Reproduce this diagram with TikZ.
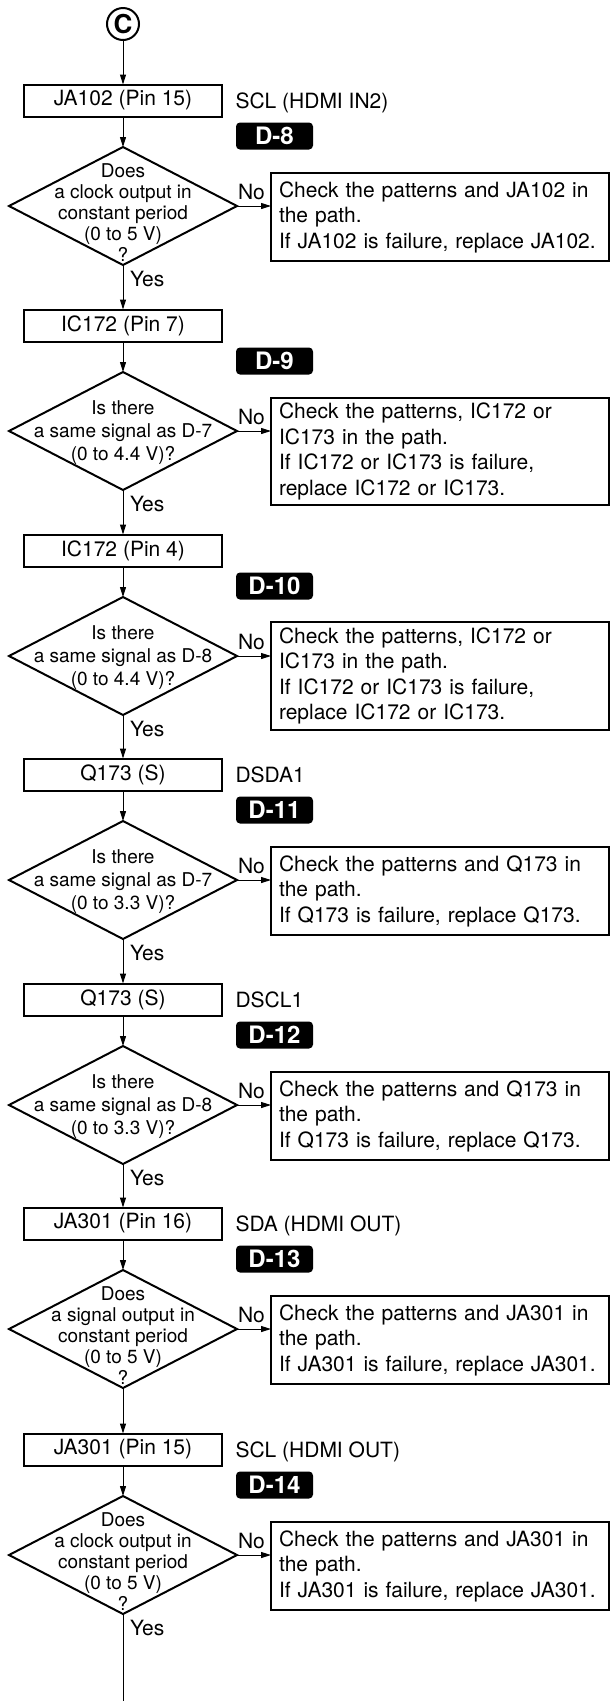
\documentclass[tikz,border=0pt]{standalone}
\usepackage{fontspec}
\setmainfont{TeX Gyre Heros}
\usetikzlibrary{arrows.meta,shapes.geometric,calc}
% diamond text: raise, line spacing, lines
\newcommand\dq[3]{\smash{\raisebox{#1}{\makebox[0pt]{\fontsize{19}{#2}\selectfont\begin{tabular}{@{}c@{}}#3\end{tabular}}}}}
\begin{document}
\begin{tikzpicture}[x=1pt,y=-1pt,
  every node/.style={outer sep=0pt},
  conn/.style={line width=1pt,-{Triangle[length=10pt,width=6pt]}},
  yesline/.style={line width=1pt},
  pbox/.style={draw,line width=2pt,minimum width=198pt,minimum height=32pt,inner sep=0pt,font=\fontsize{21}{25}\selectfont},
  dec/.style={draw,diamond,line width=2pt,minimum width=228pt,minimum height=118pt,inner sep=0pt},
  nobox/.style={draw,line width=2pt,anchor=north west,align=left,text width=322pt,inner xsep=8pt,inner ysep=0pt,font=\fontsize{21}{25.5}\selectfont},
  badge/.style={fill=black,text=white,rounded corners=4pt,minimum width=77pt,minimum height=27pt,inner sep=0pt,font=\fontsize{24}{24}\bfseries},
  sidelabel/.style={anchor=base west,inner sep=0pt,font=\fontsize{21}{25}\selectfont},
  edgelabel/.style={inner sep=0pt,font=\fontsize{21}{25}\selectfont},
]
\useasboundingbox (0,0) rectangle (610,1701);

% start
\node[draw,circle,line width=2pt,minimum size=32pt,inner sep=0pt,font=\fontsize{26}{26}\bfseries] (c) at (123,24) {C};

% section 1
\node[pbox] (b1) at (123,100.5) {JA102 (Pin 15)};
\node[sidelabel] (s1) at (235.5,108.1) {SCL (HDMI IN2)};
\node[badge] (k1) at (274.5,136) {D-8};
\node[dec] (d1) at (123,206) {\dq{-14pt}{21}{Does\\a clock output in\\constant period\\(0 to 5 V)\\?}};
\node[nobox,minimum height=88pt] (n1) at (271,173) {Check the patterns and JA102 in\\the path.\\If JA102 is failure, replace JA102.};

% section 2
\node[pbox] (b2) at (123,325.5) {IC172 (Pin 7)};
\node[badge] (k2) at (274.5,361) {D-9};
\node[dec] (d2) at (123,431) {\dq{-6pt}{23}{Is there\\a same signal as D-7\\(0 to 4.4 V)?}};
\node[nobox,minimum height=107pt] (n2) at (271,398) {Check the patterns, IC172 or\\IC173 in the path.\\If IC172 or IC173 is failure,\\replace IC172 or IC173.};

% section 3
\node[pbox] (b3) at (123,550.5) {IC172 (Pin 4)};
\node[badge] (k3) at (274.5,586) {D-10};
\node[dec] (d3) at (123,656) {\dq{-6pt}{23}{Is there\\a same signal as D-8\\(0 to 4.4 V)?}};
\node[nobox,minimum height=108pt] (n3) at (271,622) {Check the patterns, IC172 or\\IC173 in the path.\\If IC172 or IC173 is failure,\\replace IC172 or IC173.};

% section 4
\node[pbox] (b4) at (123,774.5) {Q173 (S)};
\node[sidelabel] (s4) at (235.5,782.1) {DSDA1};
\node[badge] (k4) at (274.5,810) {D-11};
\node[dec] (d4) at (123,880) {\dq{-6pt}{23}{Is there\\a same signal as D-7\\(0 to 3.3 V)?}};
\node[nobox,minimum height=88pt] (n4) at (271,847) {Check the patterns and Q173 in\\the path.\\If Q173 is failure, replace Q173.};

% section 5
\node[pbox] (b5) at (123,999.5) {Q173 (S)};
\node[sidelabel] (s5) at (235.5,1007.1) {DSCL1};
\node[badge] (k5) at (274.5,1035) {D-12};
\node[dec] (d5) at (123,1105) {\dq{-6pt}{23}{Is there\\a same signal as D-8\\(0 to 3.3 V)?}};
\node[nobox,minimum height=88pt] (n5) at (271,1072) {Check the patterns and Q173 in\\the path.\\If Q173 is failure, replace Q173.};

% section 6
\node[pbox] (b6) at (123,1223.5) {JA301 (Pin 16)};
\node[sidelabel] (s6) at (235.5,1231.1) {SDA (HDMI OUT)};
\node[badge] (k6) at (274.5,1259) {D-13};
\node[dec] (d6) at (123,1329) {\dq{-14pt}{21}{Does\\a signal output in\\constant period\\(0 to 5 V)\\?}};
\node[nobox,minimum height=88pt] (n6) at (271,1296) {Check the patterns and JA301 in\\the path.\\If JA301 is failure, replace JA301.};

% section 7
\node[pbox] (b7) at (123,1449.5) {JA301 (Pin 15)};
\node[sidelabel] (s7) at (235.5,1457.1) {SCL (HDMI OUT)};
\node[badge] (k7) at (274.5,1485) {D-14};
\node[dec] (d7) at (123,1555) {\dq{-14pt}{21}{Does\\a clock output in\\constant period\\(0 to 5 V)\\?}};
\node[nobox,minimum height=88pt] (n7) at (271,1522) {Check the patterns and JA301 in\\the path.\\If JA301 is failure, replace JA301.};

\coordinate (end) at (123,1701);

% connectors
\draw[conn] (c.south) -- (b1.north);
\draw[conn] (b1.south) -- (d1.north);
\draw[conn] (d1.south) -- node[edgelabel,at start,anchor=base west,xshift=7pt,yshift=-21pt]{Yes} (b2.north);
\draw[conn] (b2.south) -- (d2.north);
\draw[conn] (d2.south) -- node[edgelabel,at start,anchor=base west,xshift=7pt,yshift=-21pt]{Yes} (b3.north);
\draw[conn] (b3.south) -- (d3.north);
\draw[conn] (d3.south) -- node[edgelabel,at start,anchor=base west,xshift=7pt,yshift=-21pt]{Yes} (b4.north);
\draw[conn] (b4.south) -- (d4.north);
\draw[conn] (d4.south) -- node[edgelabel,at start,anchor=base west,xshift=7pt,yshift=-21pt]{Yes} (b5.north);
\draw[conn] (b5.south) -- (d5.north);
\draw[conn] (d5.south) -- node[edgelabel,at start,anchor=base west,xshift=7pt,yshift=-21pt]{Yes} (b6.north);
\draw[conn] (b6.south) -- (d6.north);
\draw[conn] (d6.south) -- (b7.north);
\draw[conn] (b7.south) -- (d7.north);
\draw[yesline] (d7.south) -- node[edgelabel,at start,anchor=base west,xshift=7pt,yshift=-21pt]{Yes} (end);

\foreach \i in {1,...,7}{
  \draw[conn] (d\i.east) -- node[edgelabel,at start,anchor=base west,xshift=1pt,yshift=6.4pt]{No} (d\i.east -| n\i.west);
}
\end{tikzpicture}
\end{document}
